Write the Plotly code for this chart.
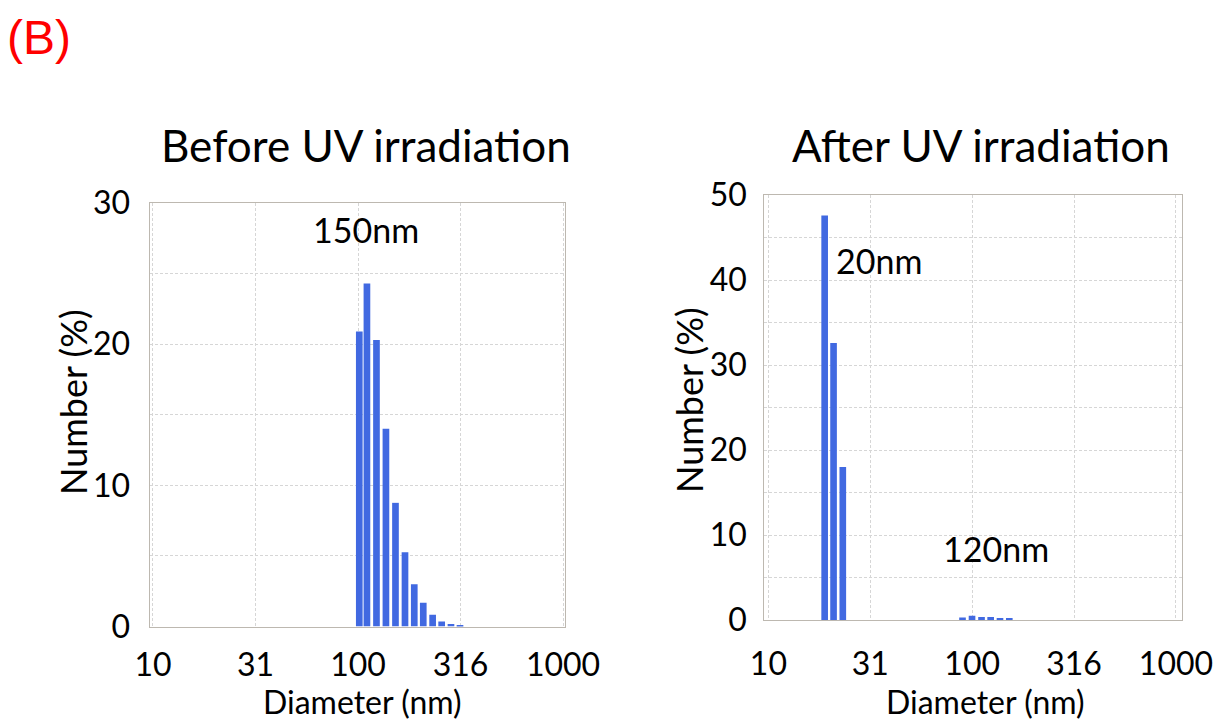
import plotly.graph_objects as go

# ---- data ----
before_diam = [101.5, 110.6, 123.1, 136.9, 152.4, 169.6, 188.2, 208.2, 231.3, 256.0, 284.2, 314.5]
before_pct = [20.9, 24.3, 20.3, 14.0, 8.76, 5.26, 3.0, 1.68, 0.83, 0.36, 0.17, 0.09]

after_diam = [18.9, 20.9, 23.2, 89.7, 99.9, 111.2, 123.3, 137.0, 152.2]
after_pct = [47.6, 32.6, 18.0, 0.3, 0.5, 0.35, 0.35, 0.15, 0.15]

x_tickvals = [10, 31.6, 100, 316, 1000]
x_ticktext = ["10", "31", "100", "316", "1000"]
left_y_ticks = [0, 5, 10, 15, 20, 25, 30]
right_y_ticks = [0, 5, 10, 15, 20, 25, 30, 35, 40, 45, 50]

W, H = 1223, 723
BAR = "#4169E1"
GRID = "#d6d6d6"
BORDER = "#bdb8b0"
FONT = "Lato"
BAR_REL_WIDTH = 0.075  # bar width relative to its diameter (constant on log axis)

fig = go.Figure()
fig.add_trace(go.Bar(x=before_diam, y=before_pct, marker_color=BAR,
                     width=[BAR_REL_WIDTH * d for d in before_diam],
                     marker_line_width=0, xaxis="x", yaxis="y"))
fig.add_trace(go.Bar(x=after_diam, y=after_pct, marker_color=BAR,
                     width=[BAR_REL_WIDTH * d for d in after_diam],
                     marker_line_width=0, xaxis="x2", yaxis="y2"))

def xax(domain, rng, standoff, anchor):
    return dict(domain=domain, type="log", range=rng, tickvals=x_tickvals, ticktext=x_ticktext,
                showgrid=True, gridcolor=GRID, griddash="3px,2px", gridwidth=1,
                showline=True, linecolor=BORDER, linewidth=1, mirror=True,
                ticks="", ticklabelstandoff=standoff, zeroline=False, anchor=anchor,
                automargin=False,
                tickfont=dict(family=FONT, size=32, color="black"))

def yax(domain, rng, ticks, standoff, anchor):
    return dict(domain=domain, range=rng, tickvals=ticks,
                ticktext=[str(t) if t % 10 == 0 else "" for t in ticks],
                showgrid=True, gridcolor=GRID, griddash="3px,2px", gridwidth=1,
                showline=True, linecolor=BORDER, linewidth=1, mirror=True,
                ticks="", ticklabelstandoff=standoff, zeroline=False, anchor=anchor,
                automargin=False,
                tickfont=dict(family=FONT, size=32, color="black"))

fig.update_layout(
    width=W, height=H, margin=dict(l=0, r=0, t=0, b=0, autoexpand=False),
    paper_bgcolor="white", plot_bgcolor="white", showlegend=False,
    xaxis=xax([149.5 / W, 564.5 / W], [0.983, 3.007], 10, "y"),
    yaxis=yax([1 - 626.5 / H, 1 - 203 / H], [0, 30], left_y_ticks, 12, "x"),
    xaxis2=xax([764.3 / W, 1181.7 / W], [0.980, 3.028], 16, "y2"),
    yaxis2=yax([1 - 620 / H, 1 - 195 / H], [0, 50], right_y_ticks, 10, "x2"),
)

def ann(text, x, y, size, angle=0, color="black", family=FONT):
    fig.add_annotation(text=text, x=x / W, y=1 - y / H, xref="paper", yref="paper",
                       xanchor="center", yanchor="middle", showarrow=False, textangle=angle,
                       borderpad=0,
                       font=dict(family=family, size=size, color=color))

ann("(B)", 39, 37, 48, color="red", family="Liberation Sans, Arial")
ann("Before UV irradiation", 366, 145, 44)
ann("After UV irradiation", 981, 145, 44)
ann("Number (%)", 73, 402, 36, angle=-90)
ann("Number (%)", 689, 400, 36, angle=-90)
ann("Diameter (nm)", 362, 701, 32)
ann("Diameter (nm)", 985, 701, 32)
ann("150nm", 366, 230, 34)
ann("20nm", 879, 260, 34)
ann("120nm", 996, 548, 34)

fig.write_html("out.html")
